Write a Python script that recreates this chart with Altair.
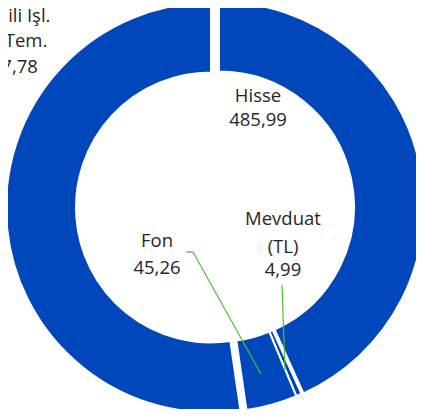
import altair as alt
import pandas as pd

# ---------------- data ----------------
categories = ["Hisse", "Mevduat (TL)", "Fon", "Kredili İşl. Kar.Tem."]
values = [485.99, 4.99, 45.26, 587.78]
label_names = [["Hisse"], ["Mevduat", "(TL)"], ["Fon"], ["Kredili İşl.", "Kar.Tem."]]

# ---------------- style ----------------
BLUE = "#0047BB"
GREEN = "#50BE32"
TEXT = "#262626"
FONT = "Open Sans"
FONT_SIZE = 18.5
W, H = 408, 401
CX, CY = 209, 199          # donut centre (view px)
R_OUT, R_IN = 205, 135
EXPLODE = [2, 0, 0, 6]     # radial offset of each slice (px)
# label anchor x and baselines of each text line (view px)
LABEL_X = [250, 275, 149, 1]
LABEL_BASE = [[94, 117.5], [217, 245, 268], [238.5, 265.5], [13.7, 39.3, 65.3]]
# leader lines (view px)
LEADERS = [
    (178, 244, 185, 244),
    (185, 244, 253, 366),
    (274, 277, 277, 362),
]

slices = pd.DataFrame({
    "idx": list(range(len(categories))),
    "category": categories,
    "value": values,
    "explode": EXPLODE,
})

rows = []
for i, cat in enumerate(categories):
    lines = label_names[i] + [f"{values[i]:.2f}".replace(".", ",")]
    for j, ln in enumerate(lines):
        rows.append({"category": cat, "line": ln, "x": LABEL_X[i], "y": LABEL_BASE[i][j]})
labels = pd.DataFrame(rows)

leaders = pd.DataFrame(LEADERS, columns=["x", "y", "x2", "y2"])

arcs = (
    alt.Chart(slices)
    .transform_window(cum="sum(value)", sort=[alt.SortField("idx", order="ascending")], frame=[None, 0])
    .transform_joinaggregate(total="sum(value)")
    .transform_calculate(t0="2*PI*(datum.cum - datum.value)/datum.total")
    .transform_calculate(t1="2*PI*datum.cum/datum.total")
    .transform_calculate(mid="(datum.t0 + datum.t1)/2")
    .transform_calculate(cx=f"{CX} + datum.explode*sin(datum.mid)")
    .transform_calculate(cy=f"{CY} - datum.explode*cos(datum.mid)")
    .mark_arc(outerRadius=R_OUT, innerRadius=R_IN, stroke="white", strokeWidth=2, color=BLUE)
    .encode(
        theta=alt.Theta("t0:Q", scale=None, stack=False),
        theta2="t1:Q",
        x=alt.X("cx:Q", scale=None, axis=None),
        y=alt.Y("cy:Q", scale=None, axis=None),
        tooltip=["category:N", "value:Q"],
    )
)

rules = (
    alt.Chart(leaders)
    .mark_rule(color=GREEN, strokeWidth=1.2)
    .encode(
        x=alt.X("x:Q", scale=None, axis=None),
        y=alt.Y("y:Q", scale=None, axis=None),
        x2="x2:Q",
        y2="y2:Q",
    )
)

texts = (
    alt.Chart(labels)
    .mark_text(font=FONT, fontSize=FONT_SIZE, color=TEXT, align="center", baseline="alphabetic")
    .encode(
        x=alt.X("x:Q", scale=None, axis=None),
        y=alt.Y("y:Q", scale=None, axis=None),
        text="line:N",
    )
)

chart = (
    alt.layer(arcs, rules, texts)
    .properties(width=W, height=H, autosize=alt.AutoSizeParams(type="none"), padding=0)
    .configure_view(stroke=None)
)

chart.save("out.html", embed_options={"renderer": "svg", "actions": False})
